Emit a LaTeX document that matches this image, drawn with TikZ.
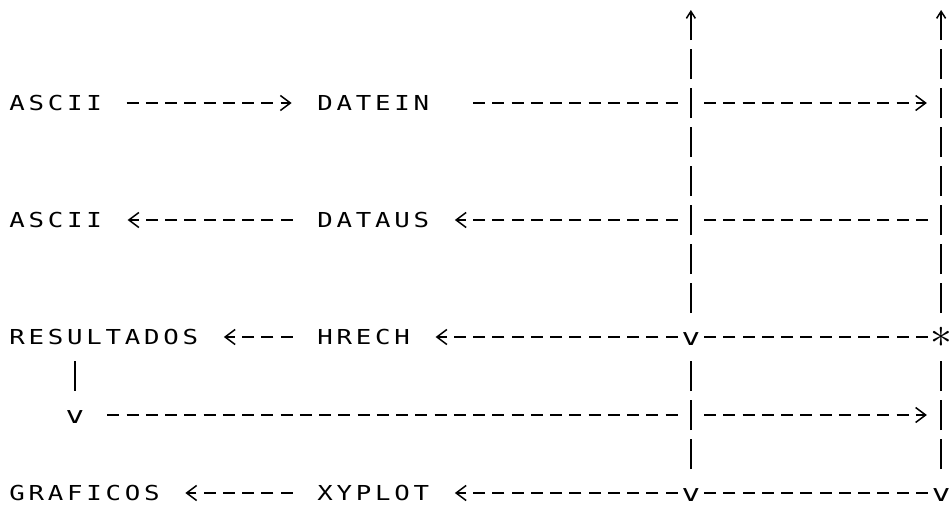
\documentclass[tikz,border=0pt]{standalone}
\usepackage{fontspec}
\usepackage{graphicx}
\usepackage{tikz}
\usetikzlibrary{arrows.meta}
\newfontfamily\plotfont{DejaVu Sans Mono}
\newlength\cellw
\setlength\cellw{19.25pt}
\newcommand\gridtext[1]{\gridtextaux#1\relax}
\def\gridtextaux#1{\ifx\relax#1\else\makebox[\cellw]{\scalebox{1.25}[1]{#1}}\expandafter\gridtextaux\fi}

\begin{document}
\begin{tikzpicture}[x=1pt,y=-1pt,
  lbl/.style={inner sep=0pt,outer sep=0pt,anchor=west,font=\plotfont\fontsize{20.6}{24}\selectfont},
  glyph/.style={inner sep=0pt,outer sep=0pt,yshift=-2pt,font=\plotfont\fontsize{20.6}{24}\selectfont},
  hflow/.style={line width=1.5pt,dash pattern=on 12pt off 7.25pt},
  vflow/.style={line width=1.5pt,dash pattern=on 30pt off 9pt},
  barb/.style={-{Straight Barb[length=10pt,width=15pt]}},
  upbarb/.style={-{Straight Barb[length=7pt,width=9pt]}},
  flowlink/.style={hflow,barb,shorten <=22.85pt,shorten >=23.9pt},
  cross/.style={shorten <=13.2pt,shorten >=13.2pt}
]
  \useasboundingbox (0,0) rectangle (951,517);

  \node[lbl] (asciiA) at (7.5,103) {\gridtext{ASCII}};
  \node[lbl] (datein) at (315.5,103) {\gridtext{DATEIN}};
  \node[lbl] (asciiB) at (7.5,220) {\gridtext{ASCII}};
  \node[lbl] (dataus) at (315.5,220) {\gridtext{DATAUS}};
  \node[lbl] (result) at (7.5,337) {\gridtext{RESULTADOS}};
  \node[lbl] (hrech) at (315.5,337) {\gridtext{HRECH}};
  \node[lbl] (graf) at (7.5,493) {\gridtext{GRAFICOS}};
  \node[lbl] (xyplot) at (315.5,493) {\gridtext{XYPLOT}};

  \coordinate (topA) at (690.875,10);
  \coordinate (topB) at (941.125,10);
  \coordinate (jA2) at (690.875,103);
  \coordinate (jB2) at (941.125,103);
  \coordinate (jA5) at (690.875,220);
  \coordinate (jB5) at (941.125,220);
  \coordinate (jA8) at (690.875,337);
  \coordinate (jB8) at (941.125,337);
  \coordinate (jA10) at (690.875,415);
  \coordinate (jB10) at (941.125,415);
  \coordinate (jA12) at (690.875,493);
  \coordinate (jB12) at (941.125,493);
  \coordinate (resv) at (74.875,415);

  \node[glyph] (vA8) at (jA8) {\scalebox{1.5}[1.15]{v}};
  \node[glyph] (vA12) at (jA12) {\scalebox{1.5}[1.15]{v}};
  \node[glyph] (vB12) at (jB12) {\scalebox{1.5}[1.15]{v}};
  \node[glyph] (vres) at (resv) {\scalebox{1.5}[1.15]{v}};
  \node[glyph,yshift=2pt] (sB8) at (jB8) {\scalebox{2.1}{$\ast$}};

  \draw[vflow,upbarb,shorten <=24pt] (jA8) -- (topA);
  \draw[vflow,shorten <=24pt,shorten >=24pt] (jA12) -- (jA8);
  \draw[vflow,upbarb,shorten <=24pt] (jB8) -- (topB);
  \draw[vflow,shorten <=24pt,shorten >=24pt] (jB12) -- (jB8);

  \draw[flowlink] (asciiA) -- (datein);
  \draw[hflow,shorten <=42.1pt,shorten >=13.2pt] (datein) -- (jA2);
  \draw[hflow,barb,shorten <=13.2pt,shorten >=14.25pt] (jA2) -- (jB2);

  \draw[hflow,cross] (jB5) -- (jA5);
  \draw[hflow,barb,shorten <=13.2pt,shorten >=23.9pt] (jA5) -- (dataus);
  \draw[flowlink] (dataus) -- (asciiB);

  \draw[hflow,cross] (jB8) -- (jA8);
  \draw[hflow,barb,shorten <=13.2pt,shorten >=23.9pt] (jA8) -- (hrech);
  \draw[flowlink] (hrech) -- (result);

  \draw[vflow,shorten <=16.5pt,shorten >=24pt] (result.south -| resv) -- (resv);
  \draw[hflow,shorten <=32.45pt,shorten >=13.2pt] (resv) -- (jA10);
  \draw[hflow,barb,shorten <=13.2pt,shorten >=14.25pt] (jA10) -- (jB10);

  \draw[hflow,cross] (jB12) -- (jA12);
  \draw[hflow,barb,shorten <=13.2pt,shorten >=23.9pt] (jA12) -- (xyplot);
  \draw[flowlink] (xyplot) -- (graf);
\end{tikzpicture}
\end{document}
